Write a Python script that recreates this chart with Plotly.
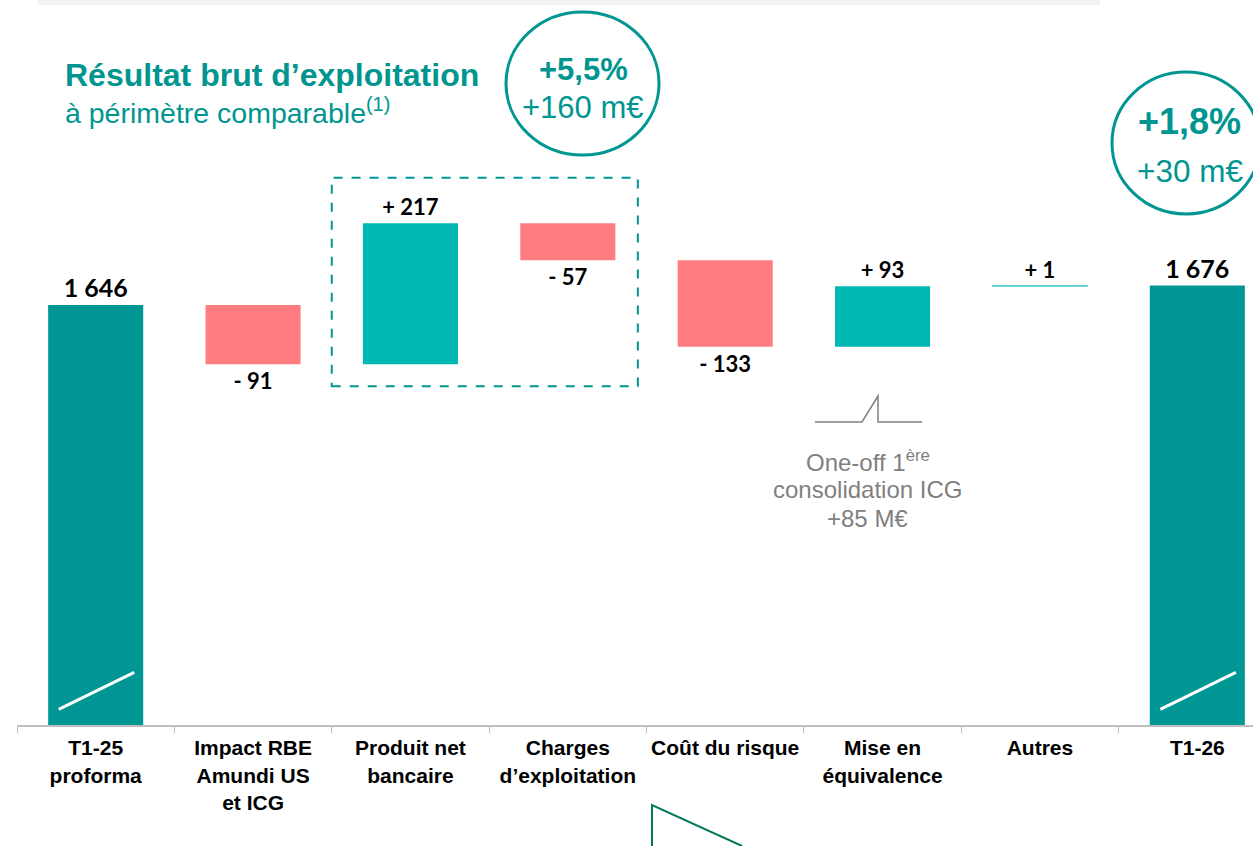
import numpy as np
import plotly.graph_objects as go

# ---------------- data ----------------
categories = ["T1-25<br>proforma", "Impact RBE<br>Amundi US<br>et ICG", "Produit net<br>bancaire",
              "Charges<br>d’exploitation", "Coût du risque", "Mise en<br>équivalence", "Autres", "T1-26"]
start_value = 1646
deltas = [-91, 217, -57, -133, 93, 1]
end_value = 1676
value_labels = ["1 646", "- 91", "+ 217", "- 57", "- 133", "+ 93", "+ 1", "1 676"]
axis_floor = 1000

# ---------------- styles ----------------
TEAL_DARK = "#009694"
TEAL_UP = "#00B8B3"
RED_DOWN = "#FF7C80"
TEXT_TEAL = "#00968F"
GRAY_TXT = "#7F7F7F"

W, H = 1253, 846
ML, MR, MT, MB = 17, 0, 0, 121
PW = W - ML - MR
PH = H - MT - MB


def px(x):
    return (x - ML) / PW


def py(y):
    return (MT + PH - y) / PH


bases_delta = start_value + np.concatenate([[0], np.cumsum(deltas)[:-1]])
y_vals = [start_value] + deltas + [end_value]
bases = [0] + list(bases_delta) + [0]
colors = [TEAL_DARK] + [TEAL_UP if d > 0 else RED_DOWN for d in deltas] + [TEAL_DARK]
line_w = [0] + [1 if abs(d) < 5 else 0 for d in deltas] + [0]
line_c = [TEAL_DARK] + ["#5ACFD0" if abs(d) < 5 else c for d, c in zip(deltas, colors[1:-1])] + [TEAL_DARK]
text_sizes = [25] + [22] * len(deltas) + [25]

fig = go.Figure()
fig.add_trace(go.Bar(
    x=categories, y=y_vals, base=bases,
    marker=dict(color=colors, line=dict(color=line_c, width=line_w)),
    width=0.604,
    text=value_labels, textposition="outside",
    textfont=dict(family="Lato", size=text_sizes, color="black", weight="bold"),
    constraintext="none", cliponaxis=False, hoverinfo="skip",
))

# axis break marks on the two total bars
shapes = []
for idx in (0, len(categories) - 1):
    shapes.append(dict(type="line", xref="x", yref="y",
                       x0=idx - 0.235, x1=idx + 0.245, y0=axis_floor + 24, y1=axis_floor + 81,
                       line=dict(color="white", width=3)))

# dashed box around PNB / charges
shapes.append(dict(type="rect", xref="x", yref="y", x0=1.5, x1=3.445, y0=1521, y1=1842,
                   line=dict(color=TEAL_DARK, width=2, dash="dash"), fillcolor="rgba(0,0,0,0)"))

# circles
shapes.append(dict(type="circle", xref="paper", yref="paper",
                   x0=px(506), x1=px(659), y0=py(155), y1=py(12),
                   line=dict(color=TEAL_DARK, width=3)))
shapes.append(dict(type="circle", xref="paper", yref="paper",
                   x0=px(1112), x1=px(1260), y0=py(214), y1=py(72),
                   line=dict(color=TEAL_DARK, width=3)))

# gray bracket
pts = [(815, 422), (862, 422), (878, 396), (878, 422), (922, 422)]
path = "M " + " L ".join(f"{px(a):.5f},{py(b):.5f}" for a, b in pts)
shapes.append(dict(type="path", xref="paper", yref="paper", path=path,
                   line=dict(color="#808080", width=1.5)))

# bottom green triangle stub
pts2 = [(742, 846), (652, 805), (652, 846)]
path2 = "M " + " L ".join(f"{px(a):.5f},{py(b):.5f}" for a, b in pts2)
shapes.append(dict(type="path", xref="paper", yref="paper", path=path2,
                   line=dict(color="#007A5E", width=2)))

# top gray banner
shapes.append(dict(type="rect", xref="paper", yref="paper",
                   x0=px(38), x1=px(1100), y0=py(5), y1=py(-20),
                   line=dict(width=0), fillcolor="#F2F2F2", layer="below"))

annotations = [
    dict(text="<b>Résultat brut d’exploitation</b>", x=px(63), y=py(75), xanchor="left", yanchor="middle",
         font=dict(family="Liberation Sans", size=32, color=TEXT_TEAL)),
    dict(text="à périmètre comparable<sup>(1)</sup>", x=px(63), y=py(111), xanchor="left", yanchor="middle",
         font=dict(family="Liberation Sans", size=28.5, color=TEXT_TEAL)),
    dict(text="<b>+5,5%</b>", x=px(583), y=py(70), xanchor="center", yanchor="middle",
         font=dict(family="Liberation Sans", size=31, color=TEXT_TEAL)),
    dict(text="+160 m€", x=px(583), y=py(108), xanchor="center", yanchor="middle",
         font=dict(family="Liberation Sans", size=31, color=TEXT_TEAL)),
    dict(text="<b>+1,8%</b>", x=px(1189), y=py(121), xanchor="center", yanchor="middle",
         font=dict(family="Liberation Sans", size=36, color=TEXT_TEAL)),
    dict(text="+30 m€", x=px(1190), y=py(171), xanchor="center", yanchor="middle",
         font=dict(family="Liberation Sans", size=31.5, color=TEXT_TEAL)),
]
gray_lines = ["One-off 1<sup>ère</sup>", "consolidation ICG", "+85 M€"]
for i, t in enumerate(gray_lines):
    annotations.append(dict(text=t, x=px(868), y=py(461 + 28.5 * i), xanchor="center", yanchor="middle",
                            font=dict(family="Liberation Sans", size=24, color=GRAY_TXT)))
for a in annotations:
    a.update(xref="paper", yref="paper", showarrow=False)

fig.update_layout(
    width=W, height=H, margin=dict(l=ML, r=MR, t=MT, b=MB),
    paper_bgcolor="white", plot_bgcolor="white", showlegend=False,
    shapes=shapes, annotations=annotations,
    xaxis=dict(range=[-0.5, len(categories) - 0.5 - 23 / 157.4], showline=True, linecolor="#BFBFBF",
               linewidth=2, ticks="outside", tickson="boundaries", ticklen=6, tickcolor="#BFBFBF",
               tickwidth=1, showgrid=False, ticklabelstandoff=3,
               tickfont=dict(family="Liberation Sans", size=21, color="black", weight="bold")),
    yaxis=dict(range=[axis_floor, axis_floor + PH / 0.65], visible=False, showgrid=False, zeroline=False),
    bargap=0.4,
)

fig.write_html("out.html", config={"displayModeBar": False},
               post_script="document.body.style.margin='0px';")
